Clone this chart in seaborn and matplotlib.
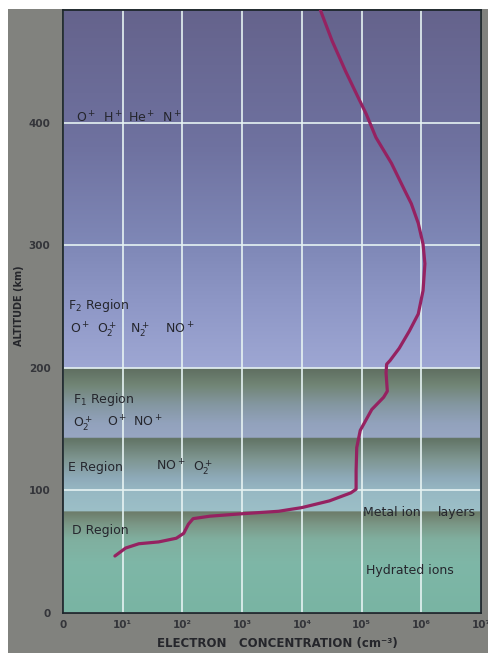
import numpy as np
import pandas as pd
import matplotlib
matplotlib.use("Agg")
import matplotlib.pyplot as plt
from matplotlib.colors import to_rgb
from matplotlib.patches import Rectangle
from matplotlib.ticker import NullLocator
import seaborn as sns

# ---- electron density profile of the ionosphere ----------------------
altitude_km = [46.5, 53, 56.5, 58, 61, 65, 72.5, 77, 79, 81, 83, 86, 91.5,
               98, 101, 116, 135, 149, 166, 176, 181, 196, 203, 206, 216,
               230, 244, 263, 285, 301, 318, 334, 345, 367, 388, 407, 420,
               442, 467, 492]
electron_density = [7.4, 11.2, 18.6, 40, 79, 105, 126, 151, 288, 1.0e3,
                    4.07e3, 1.0e4, 2.9e4, 6.6e4, 8.1e4, 8.1e4, 8.3e4, 9.5e4,
                    1.48e5, 2.34e5, 2.7e5, 2.57e5, 2.63e5, 3.0e5, 4.27e5,
                    6.3e5, 8.9e5, 1.07e6, 1.15e6, 1.07e6, 8.9e5, 6.8e5,
                    5.25e5, 3.16e5, 1.74e5, 1.2e5, 8.9e4, 5.4e4, 3.2e4, 2.04e4]

x_tick_values = [1e0, 1e1, 1e2, 1e3, 1e4, 1e5, 1e6, 1e7]
x_tick_labels = ["0", "10¹", "10²", "10³", "10⁴", "10⁵", "10⁶", "10⁷"]
y_tick_values = [0, 100, 200, 300, 400]
y_tick_labels = ["0", "100", "200", "300", "400"]

# layer names and dominant ions (text, decade position, altitude)
region_labels = [("F$_2$ Region", 0.08, 248), ("F$_1$ Region", 0.17, 171),
                 ("E Region", 0.08, 116), ("D Region", 0.15, 64.5)]
ion_labels = [("O$^+$", 0.22, 400), ("H$^+$", 0.67, 400), ("He$^+$", 1.09, 400),
              ("N$^+$", 1.66, 400),
              ("O$^+$", 0.12, 228), ("O$_2^+$", 0.57, 228), ("N$_2^+$", 1.12, 228),
              ("NO$^+$", 1.71, 228),
              ("O$_2^+$", 0.17, 152), ("O$^+$", 0.74, 152), ("NO$^+$", 1.17, 152),
              ("NO$^+$", 1.56, 116), ("O$_2^+$", 2.18, 116)]
side_labels = [("Metal ion", 5.03, 79.5), ("layers", 6.28, 79.5),
               ("Hydrated ions", 5.08, 32)]

# shading of the layers: (altitude, colour) stops
band_stops = [(0, "#79b4a3"), (40, "#7eb7a7"), (60, "#80af9f"), (72, "#7b9887"),
              (82.7, "#6c7b69"), (83, "#9cbfc7"), (100, "#97b8c3"),
              (110, "#8eaab9"), (126, "#7e9590"), (142.7, "#617364"),
              (143, "#98a6c3"), (155, "#92a2bc"), (170, "#8497a1"),
              (186, "#718575"), (199.7, "#5f6e60"), (200, "#9ea7d3"),
              (250, "#8f98c7"), (300, "#7f88b7"), (380, "#6f72a0"),
              (492, "#65638c")]

ALT_MAX = 492

sns.set_theme(style="white")
plt.rcParams["font.family"] = ["DejaVu Sans"]
plt.rcParams["mathtext.fontset"] = "dejavusans"
plt.rcParams["mathtext.default"] = "regular"

W, H = 489, 653
fig = plt.figure(figsize=(W / 100, H / 100), dpi=100, facecolor="white")
fig.add_artist(Rectangle((8 / W, 0), 1, 1 - 9 / H, transform=fig.transFigure,
                         facecolor="#81827e", edgecolor="none", zorder=-10))

rect = [63 / W, 1 - 613 / H, (481 - 63) / W, (613 - 10) / H]

# background gradient bands
bg = fig.add_axes(rect, zorder=0)
alts = np.linspace(0, ALT_MAX, 1400)
stop_alt = [s[0] for s in band_stops]
stop_rgb = np.array([to_rgb(s[1]) for s in band_stops])
img = np.stack([np.interp(alts, stop_alt, stop_rgb[:, k]) for k in range(3)], axis=-1)
bg.imshow(img[:, None, :], aspect="auto", origin="lower",
          extent=(0, 1, 0, ALT_MAX), interpolation="bilinear")
bg.set_xlim(0, 1)
bg.set_ylim(0, ALT_MAX)
bg.axis("off")

# main axes
ax = fig.add_axes(rect, zorder=1)
ax.patch.set_alpha(0)
df = pd.DataFrame({"density": electron_density, "altitude": altitude_km})
sns.lineplot(data=df, x="density", y="altitude", sort=False, estimator=None,
             color="#952261", lw=2.3, solid_capstyle="round",
             solid_joinstyle="round", ax=ax, zorder=3)
ax.set_xscale("log")
ax.set_xlim(1, 1e7)
ax.set_ylim(0, ALT_MAX)
ax.set_xticks(x_tick_values, x_tick_labels)
ax.set_yticks(y_tick_values, y_tick_labels)
ax.xaxis.set_minor_locator(NullLocator())
ax.set_xlabel("")
ax.set_ylabel("")
ax.grid(True, which="major", color="#e6f3f3", lw=1.2)
ax.tick_params(length=0, labelsize=7.5, labelcolor="#34353a")
ax.tick_params(axis="x", pad=5)
ax.tick_params(axis="y", pad=9)
for t in ax.get_xticklabels() + ax.get_yticklabels():
    t.set_fontweight("bold")
for sp in ax.spines.values():
    sp.set_visible(True)
    sp.set_color("#1d272c")
    sp.set_linewidth(1.3)

txt_kw = dict(fontsize=9, color="#25262d", va="baseline", ha="left", zorder=4)
for label, pos, alt in region_labels + ion_labels + side_labels:
    ax.text(10 ** pos, alt, label, **txt_kw)

fig.text(19 / W, 1 - 306 / H, "ALTITUDE (km)", rotation=90, ha="center",
         va="center", fontsize=7, fontweight="bold", color="#25262b")
fig.text(277 / W, 1 - 643 / H, "ELECTRON   CONCENTRATION (cm⁻³)", ha="center",
         va="center", fontsize=8.5, fontweight="bold", color="#25262b")

fig.savefig("out.png", dpi=100, facecolor=fig.get_facecolor())
